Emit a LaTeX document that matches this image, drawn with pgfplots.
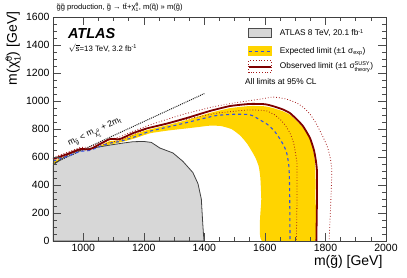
\documentclass[border=0pt]{standalone}
\usepackage{fontspec}
\setmainfont{Liberation Sans}
\usepackage{pgfplots}
\pgfplotsset{compat=1.18}
\definecolor{atlgray}{RGB}{215,215,215}
\definecolor{yel}{RGB}{255,212,0}
\definecolor{obsred}{RGB}{125,0,0}
\definecolor{expblue}{RGB}{50,80,230}
\definecolor{thred}{RGB}{165,25,25}
\newcommand{\fs}[1]{\fontsize{#1}{#1}\selectfont}
\newcommand{\neut}[1]{\~{χ}$^{\mbox{\fs{#1}0}}_{\mbox{\fs{#1}1}}$}
\begin{document}
\begin{tikzpicture}
\begin{axis}[
  scale only axis, width=333pt, height=224pt,
  xmin=900, xmax=2000, ymin=0, ymax=1600,
  xtick={1000,1200,...,2000}, ytick={0,200,...,1600},
  minor x tick num=3, minor y tick num=3,
  tick align=inside, major tick length=8pt, minor tick length=4pt,
  tick style={black!70, line width=0.6pt},
  axis line style={black!75, line width=0.7pt},
  ticklabel style={font=\fs{10.5}},
  /pgf/number format/assume math mode=true,
  /pgf/number format/1000 sep={},
  axis on top,
]
% yellow band (expected +-1 sigma)
\addplot[fill=yel, draw=none, smooth, tension=0.3] coordinates {
(900,572)(946,607)(989,645)(1022,648)(1055,682)(1088,715)(1121,720)(1164,760)(1210,793)(1277,828)(1343,866)(1419,916)(1485,950)(1550,965)(1600,963)(1627,950)(1660,927)(1683,902)(1705,860)(1726,812)(1749,728)(1760,645)(1765,575)(1767,500)(1767,300)(1765,0)
(1590,0)(1588,300)(1585,450)(1580,530)(1570,590)(1556,645)(1540,700)(1518,755)(1490,800)(1455,822)(1419,825)(1380,815)(1329,802)(1280,790)(1220,770)(1164,730)(1121,705)(1088,690)(1055,670)(1000,640)(950,600)(900,548)
} -- cycle;
% ATLAS 8 TeV
\addplot[fill=atlgray, draw=black!75, line width=0.8pt] coordinates {
(900,0)(900,543)(930,590)(956,625)(989,650)(1040,668)(1088,686)(1130,700)(1164,710)(1200,712)(1225,705)(1253,665)(1296,630)(1329,570)(1362,490)(1379,410)(1390,300)(1394,150)(1397,50)(1399,0)
} -- cycle;
% kinematic line
\addplot[black!85, densely dotted, line width=1pt] coordinates {(900,554)(1400,1054)};
% expected
\addplot[expblue, dashed, line width=1.1pt, smooth, tension=0.3] coordinates {
(900,571)(946,605)(989,640)(1022,648)(1055,677)(1088,700)(1121,712)(1164,740)(1220,785)(1280,815)(1329,840)(1400,878)(1442,898)(1495,906)(1541,905)(1561,895)(1584,865)(1607,836)(1630,790)(1650,729)(1665,670)(1673,621)(1679,540)(1681,450)(1682,300)(1683,0)
};
% observed -1 sigma theory
\addplot[thred, dotted, line width=0.8pt, smooth, tension=0.3] coordinates {
(900,578)(946,612)(989,650)(1022,652)(1055,686)(1121,722)(1164,758)(1220,810)(1280,840)(1329,865)(1442,914)(1541,936)(1584,935)(1607,929)(1630,905)(1650,871)(1668,825)(1683,771)(1695,700)(1700,640)(1706,550)(1706,300)(1704,0)
};
% observed +1 sigma theory
\addplot[thred, dotted, line width=0.8pt, smooth, tension=0.3] coordinates {
(900,598)(946,633)(989,668)(1022,672)(1055,705)(1121,745)(1164,785)(1220,830)(1280,872)(1329,905)(1420,955)(1495,986)(1584,1014)(1627,1029)(1670,1015)(1706,986)(1730,950)(1749,907)(1768,845)(1782,786)(1796,725)(1808,664)(1817,580)(1821,500)(1818,300)(1812,0)
};
% observed
\addplot[obsred, line width=1.8pt, smooth, tension=0.3] coordinates {
(900,586)(946,621)(989,657)(1022,657)(1055,693)(1088,729)(1121,729)(1164,771)(1210,805)(1277,840)(1343,880)(1419,930)(1485,965)(1550,980)(1600,978)(1627,964)(1660,940)(1683,914)(1705,870)(1726,821)(1749,736)(1762,650)(1768,580)(1772,500)(1772,300)(1770,0)
};
% legend
\draw[fill=atlgray, draw=black!70, line width=1pt] (axis cs:1546,1452) rectangle (axis cs:1621,1519);
\fill[yel] (axis cs:1544,1323) rectangle (axis cs:1623,1391);
\draw[expblue, dashed, line width=1.1pt] (axis cs:1546,1357) -- (axis cs:1621,1357);
\draw[thred, dotted, line width=0.8pt] (axis cs:1546,1202) rectangle (axis cs:1621,1290);
\draw[obsred, line width=1.8pt] (axis cs:1546,1245) -- (axis cs:1621,1245);
\node[anchor=west, font=\fs{8.3}] at (axis cs:1638,1486) {ATLAS 8 TeV, 20.1 fb$^{\mbox{\fs{5.5}-1}}$};
\node[anchor=west, font=\fs{8.3}] at (axis cs:1638,1357) {Expected limit (±1 σ$_{\mbox{\fs{5.5}exp}}$)};
\node[anchor=west, font=\fs{8.3}] at (axis cs:1638,1243) {Observed limit (±1 σ$^{\mbox{\fs{5.5}SUSY}}_{\mbox{\fs{5.5}theory}}$)};
\node[anchor=west, font=\fs{8.3}] at (axis cs:1523,1143) {All limits at 95\% CL};
\node[anchor=base west, font=\fs{14.5}\bfseries\itshape] at (axis cs:938,1445) {ATLAS};
\node[anchor=base west, font=\fs{7.8}] at (axis cs:940,1358) {$\sqrt{\mbox{\fs{7.8}s}}$=13 TeV, 3.2 fb$^{\mbox{\fs{5.5}-1}}$};
\node[rotate=25, font=\fs{8.5}] at (axis cs:1040,772) {m$_{\mbox{\fs{6}\~{g}}}$ < m$_{\mbox{\fs{6}\neut{4.5}}}$ + 2m$_{\mbox{\fs{6}t}}$};
\end{axis}
\path (current axis.north west) ++(0pt,9.5pt) node[anchor=west, font=\fs{7.6}] {\~{g}\~{g} production, \~{g} → t\={t}+\neut{5}, m(\~{q}) >> m(\~{g})};
\path (current axis.south east) ++(0pt,-11pt) node[anchor=north east, font=\fs{14}] {m(\~{g}) [GeV]};
\path (current axis.north west) ++(-36pt,9pt) node[rotate=90, anchor=base east, font=\fs{14}] {m(\neut{9}) [GeV]};
\path (current axis.south west) ++(-53pt,-36pt) rectangle ++(407pt,276pt);
\end{tikzpicture}
\end{document}
